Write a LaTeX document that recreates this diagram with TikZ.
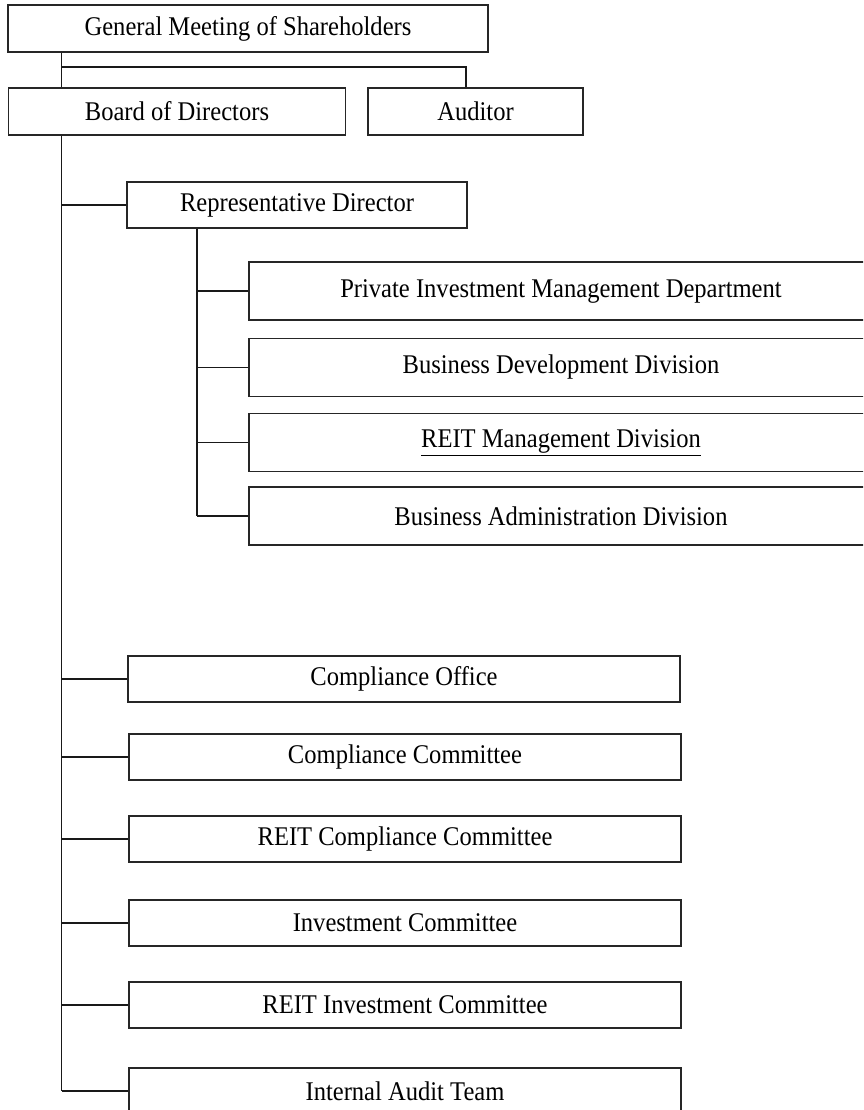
\documentclass[tikz,border=0pt]{standalone}
\usepackage{fontspec}
\setmainfont{Liberation Serif}[FakeStretch=0.91]
\tikzset{
  orgbox/.style={draw=black!85, line width=1.4pt, inner sep=0pt, minimum height=46pt,
    font=\fontsize{27}{32}\selectfont},
  deptbox/.style={orgbox, minimum width=624pt, minimum height=58pt},
  cttbox/.style={orgbox, minimum width=552pt},
  link/.style={draw=black!90, line width=1.4pt}
}
\begin{document}
\begin{tikzpicture}[x=1pt,y=-1pt]
        \useasboundingbox (0,0) rectangle (863,1110);
        \clip (0,0) rectangle (863,1110);
        % top level
        \node[orgbox, minimum width=480pt, minimum height=47pt] (gm) at (248,28.5) {General Meeting of Shareholders};
        \node[orgbox, minimum width=337pt, minimum height=47pt] (board) at (177,111.5) {Board of Directors};
        \node[orgbox, minimum width=215pt, minimum height=47pt] (auditor) at (475.5,111.5) {Auditor};
        \node[orgbox, minimum width=340pt] (rep) at (297,205) {Representative Director};
        % divisions
        \node[deptbox] (pim) at (561,291) {Private Investment Management Department};
        \node[deptbox] (bdd) at (561,367.5) {Business Development Division};
        \node[deptbox] (rmd) at (561,442.5) {\underline{REIT Management Division}};
        \node[deptbox] (bad) at (561,516) {Business Administration Division};
        % committees
        \node[cttbox] (co) at (404,679) {Compliance Office};
        \node[cttbox] (cc) at (405,757) {Compliance Committee};
        \node[cttbox] (rcc) at (405,839) {REIT Compliance Committee};
        \node[cttbox] (ic) at (405,923) {Investment Committee};
        \node[cttbox] (ric) at (405,1005) {REIT Investment Committee};
        \node[cttbox] (iat) at (405,1091) {Internal Audit Team};
        % lines
        \coordinate (trunk) at (61.5,0);
        \coordinate (sub) at (197,0);
        \coordinate (split) at (61.5,67);
        \draw[link] (trunk |- gm.south) -- (trunk |- board.north);
        \draw[link] (split) -| ([xshift=-9.5pt]auditor.north);
        \draw[link] (trunk |- board.south) -- (trunk |- iat.west);
        \foreach \n in {rep,co,cc,rcc,ic,ric,iat}
          \draw[link] (trunk |- \n.west) -- (\n.west);
        \draw[link] (sub |- rep.south) -- (sub |- bad.west);
        \foreach \n in {pim,bdd,rmd,bad}
          \draw[link] (sub |- \n.west) -- (\n.west);
\end{tikzpicture}
\end{document}
